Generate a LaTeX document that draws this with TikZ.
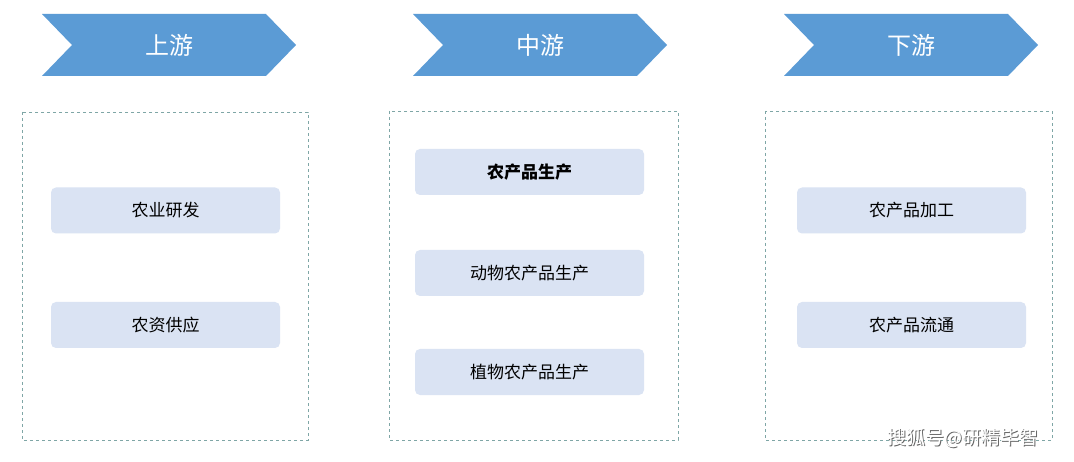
\documentclass[tikz,border=0pt]{standalone}
\usepackage{fontspec}
\setmainfont{Noto Sans CJK SC}
\definecolor{chevblue}{HTML}{5B9BD5}
\definecolor{itemfill}{HTML}{DAE3F3}
\definecolor{dashgray}{HTML}{7FA6A6}
\tikzset{%
  every item/.style={
    rounded corners=5pt,
    fill=itemfill,
    minimum width=229pt,
    minimum height=46pt,
    font=\fontsize{17}{20}\selectfont,
    inner sep=0pt
  },
  stage box/.style={
    draw=dashgray,
    dashed,
    thin
  },
  stage label/.style={
    text=white,
    font=\fontsize{24}{28}\selectfont
  },
}
\begin{document}
\begin{tikzpicture}[x=1pt, y=-1pt]
\useasboundingbox (0,0) rectangle (1074,462);
\fill[white] (0,0) rectangle (1074,462);

% chevrons
\foreach \s/\l [count=\i] in {42/上游, 413/中游, 784/下游} {
  \fill[chevblue] (\s,14) -- ++(224,0) -- ++(30,31) -- ++(-30,31)
    -- ++(-224,0) -- ++(30,-31) -- cycle;
  \node [stage label] (stage-\i) at (\s+127,45) {\l};
}

% dashed boxes
\draw [stage box] (22,112) rectangle (308,440);
\draw [stage box] (389,111) rectangle (678,440);
\draw [stage box] (765,111) rectangle (1052,440);

% upstream
\foreach \y/\l [count=\i] in {210.5/农业研发, 325/农资供应}
  \node [every item] (up-\i) at (165.5,\y) {\l};

% midstream
\node [every item, font=\fontsize{17}{20}\selectfont\bfseries] (mid-1) at (529.5,172) {农产品生产};
\foreach \y/\l [count=\i from 2] in {273/动物农产品生产, 372/植物农产品生产}
  \node [every item] (mid-\i) at (529.5,\y) {\l};

% downstream
\foreach \y/\l [count=\i] in {210.5/农产品加工, 325/农产品流通}
  \node [every item] (down-\i) at (911.5,\y) {\l};

% watermark
\node [text=black!60, font=\fontsize{19}{22}\selectfont] (mark-shadow) at (964,439) {搜狐号@研精毕智};
\node [text=white, font=\fontsize{19}{22}\selectfont] (mark) at (963,438) {搜狐号@研精毕智};
\end{tikzpicture}
\end{document}
